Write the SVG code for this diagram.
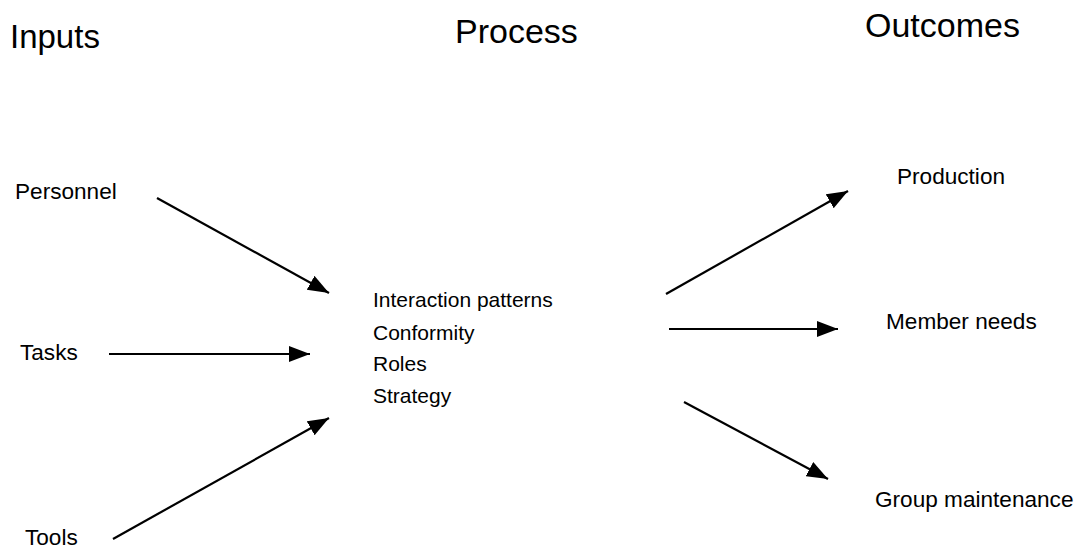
<svg xmlns="http://www.w3.org/2000/svg" width="1079" height="548" viewBox="0 0 1079 548">
<style>
text { font-family: "Liberation Sans", Arial, sans-serif; fill: #000; }
.h { font-size: 33px; }
.t { font-size: 21px; }
.o { font-size: 22.6px; }
.c { stroke: #000; stroke-width: 2.2; fill: none; marker-end: url(#ah); }
</style>
<defs>
<marker id="ah" markerUnits="userSpaceOnUse" markerWidth="22" markerHeight="17" refX="21" refY="8" orient="auto" viewBox="0 0 22 17">
<path d="M0,0 L21,8 L0,16 Z" fill="#000"/>
</marker>
</defs>
<rect width="1079" height="548" fill="#fff"/>
<g id="headings">
<text class="h" x="10" y="48">Inputs</text>
<text class="h" x="455" y="43" style="font-size:34px">Process</text>
<text class="h" x="865" y="37" style="font-size:34px">Outcomes</text>
</g>
<g id="personnel"><text class="o" x="15" y="199">Personnel</text></g>
<g id="tasks"><text class="o" x="20" y="360">Tasks</text></g>
<g id="tools"><text class="o" x="25" y="545">Tools</text></g>
<g id="process">
<text class="t" x="373" y="307">Interaction patterns</text>
<text class="t" x="373" y="340">Conformity</text>
<text class="t" x="373" y="371">Roles</text>
<text class="t" x="373" y="403">Strategy</text>
</g>
<g id="production"><text class="o" x="897" y="184">Production</text></g>
<g id="member-needs"><text class="o" x="886" y="329">Member needs</text></g>
<g id="group-maintenance"><text class="o" x="875" y="507">Group maintenance</text></g>
<g id="connectors">
<line class="c" x1="157" y1="198" x2="329" y2="293"/>
<line class="c" x1="109" y1="354" x2="310" y2="354"/>
<line class="c" x1="113" y1="539" x2="329" y2="418"/>
<line class="c" x1="666" y1="294" x2="848" y2="191"/>
<line class="c" x1="669" y1="329" x2="838" y2="329"/>
<line class="c" x1="684" y1="402" x2="828" y2="479"/>
</g>
</svg>
